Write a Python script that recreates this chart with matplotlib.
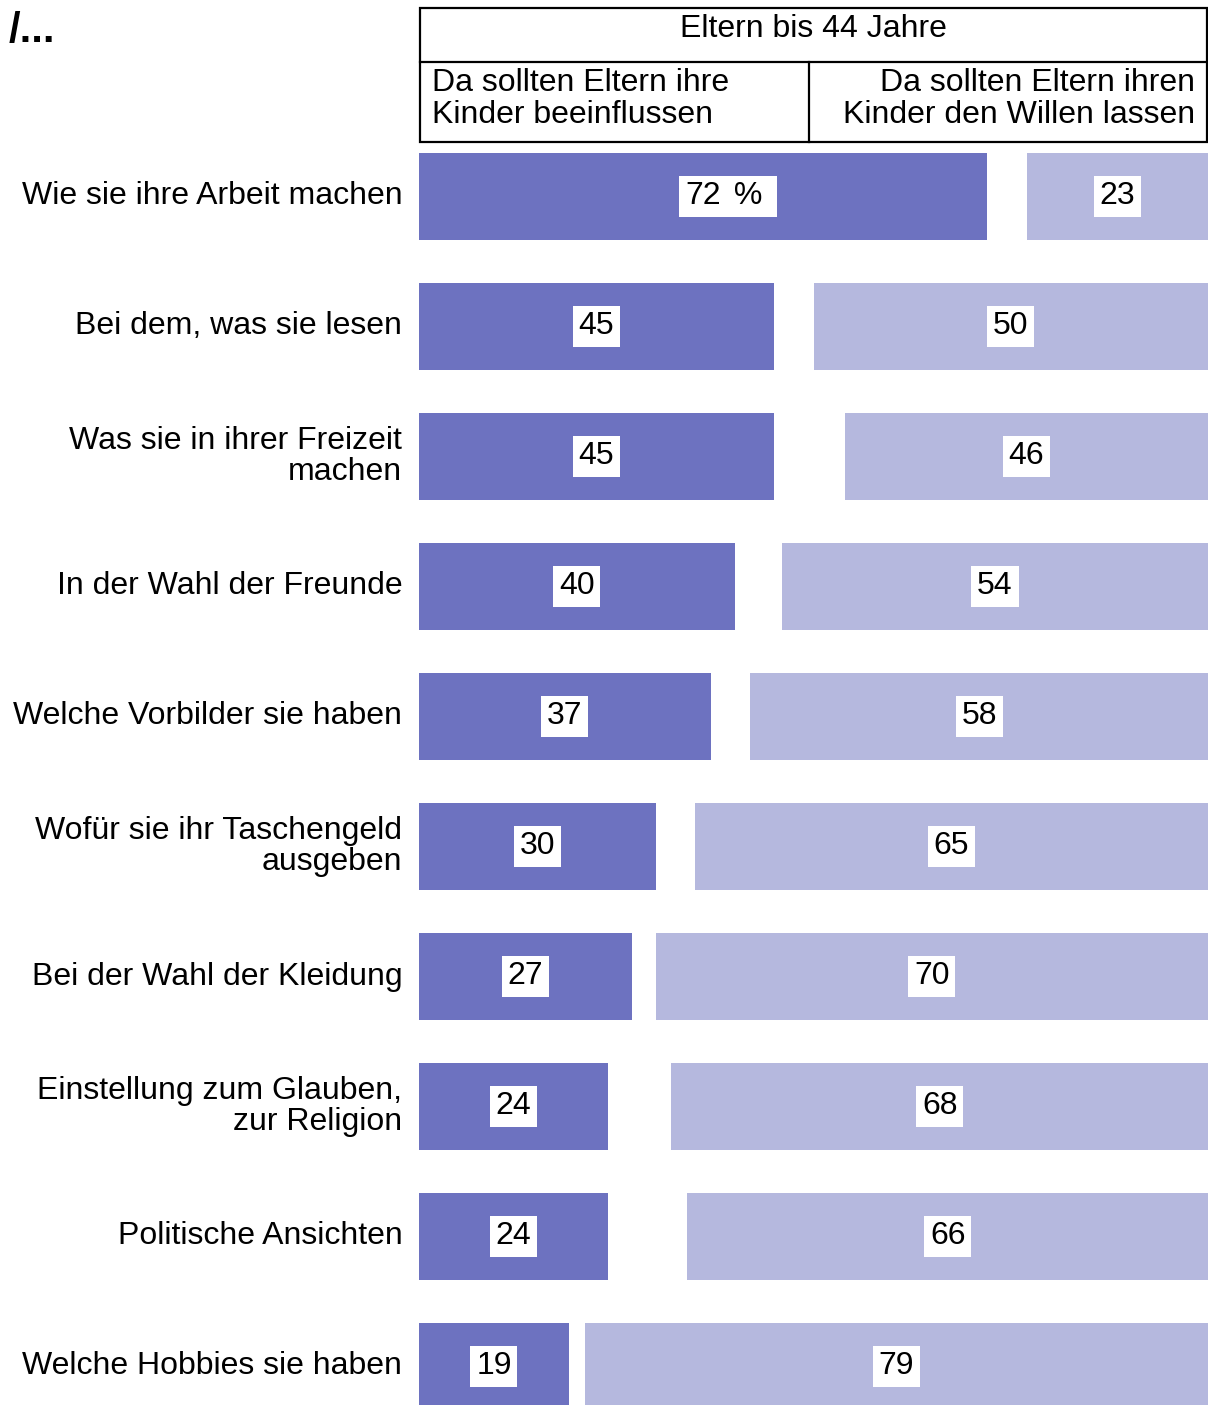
import matplotlib.pyplot as plt
import numpy as np
from matplotlib.patches import Rectangle
from matplotlib.lines import Line2D

plt.rcParams['font.family'] = ['Liberation Sans', 'DejaVu Sans']

categories = [
    "Wie sie ihre Arbeit machen",
    "Bei dem, was sie lesen",
    "Was sie in ihrer Freizeit\nmachen",
    "In der Wahl der Freunde",
    "Welche Vorbilder sie haben",
    "Wofür sie ihr Taschengeld\nausgeben",
    "Bei der Wahl der Kleidung",
    "Einstellung zum Glauben,\nzur Religion",
    "Politische Ansichten",
    "Welche Hobbies sie haben",
]
beeinflussen = [72, 45, 45, 40, 37, 30, 27, 24, 24, 19]
willen_lassen = [23, 50, 46, 54, 58, 65, 70, 68, 66, 79]

group_title = "Eltern bis 44 Jahre"
left_head = "Da sollten Eltern ihre\nKinder beeinflussen"
right_head = "Da sollten Eltern ihren\nKinder den Willen lassen"

dark = "#6d72c0"
light = "#b5b8de"
fs = 23

W, H = 1208, 1405
fig = plt.figure(figsize=(W / 100, H / 100), dpi=100)

# bar area: rows 130 px apart, first row centred at y=196.5 px
top_px, bot_px = 131.5, 1431.5
ax = fig.add_axes([419 / W, (H - bot_px) / H, 1 - 419 / W, (bot_px - top_px) / H])
ax.patch.set_visible(False)

y = np.arange(len(categories))
left = np.array(beeinflussen)
right = np.array(willen_lassen)

ax.barh(y, left, height=0.67, color=dark)
ax.barh(y, right, left=100 - right, height=0.67, color=light)

box = dict(boxstyle='square,pad=0.18', fc='white', ec='none')
for i in range(len(y)):
    ax.text(left[i] / 2, y[i], str(left[i]), ha='center', va='center',
            fontsize=fs, bbox=box)
    ax.text(100 - right[i] / 2, y[i], str(right[i]), ha='center', va='center',
            fontsize=fs, bbox=box)
ax.annotate(" % ", (left[0] / 2, y[0]), xytext=(22, 0), textcoords='offset pixels',
            ha='left', va='center', fontsize=fs, bbox=box)

ax.set_xlim(0, 100)
ax.set_ylim(len(y) - 0.5, -0.5)
ax.set_xticks([])
ax.set_yticks(y, categories)
ax.tick_params(axis='y', length=0, pad=12, labelsize=fs)
for lbl in ax.get_yticklabels():
    lbl.set_linespacing(1.05)
    lbl.set_verticalalignment('center')
for s in ax.spines.values():
    s.set_visible(False)

# header table in pixel coordinates
hd = fig.add_axes([0, 0, 1, 1], zorder=-1)
hd.set_xlim(0, W)
hd.set_ylim(H, 0)
hd.axis('off')
hd.add_patch(Rectangle((420, 8), 787, 134, fill=False, ec='black', lw=1.6))
hd.add_line(Line2D([420, 1207], [62, 62], color='black', lw=1.6))
hd.add_line(Line2D([809, 809], [62, 142], color='black', lw=1.6))
hd.text(813.5, 29, group_title, ha='center', va='center', fontsize=fs)
hd.text(432, 99, left_head, ha='left', va='center', fontsize=fs, linespacing=1.05)
hd.text(1195, 99, right_head, ha='right', va='center', fontsize=fs,
        linespacing=1.05, multialignment='right')
hd.text(9, 31, "/...", ha='left', va='center', fontsize=30, fontweight='bold')

fig.savefig("out.png", dpi=100)
